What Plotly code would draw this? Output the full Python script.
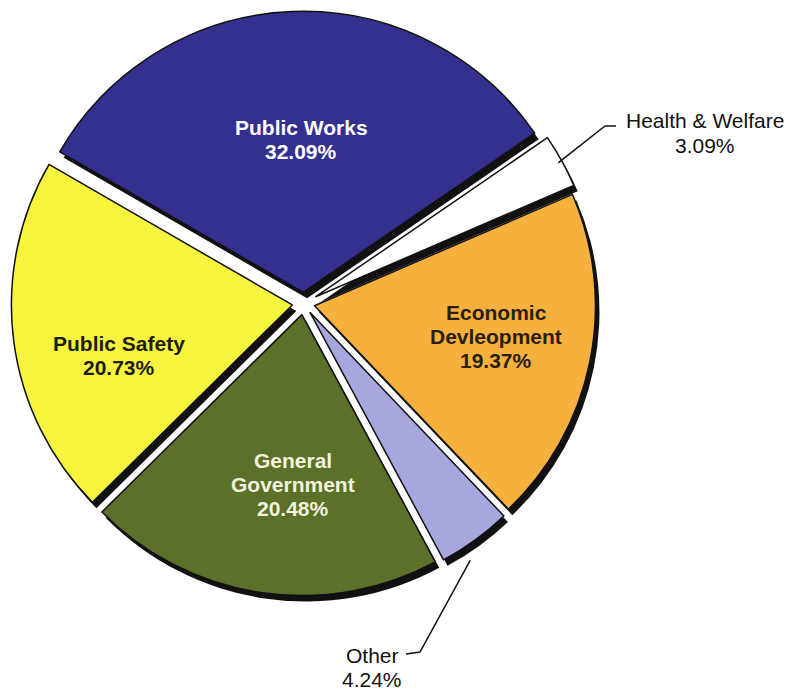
import math
import plotly.graph_objects as go

# ---- data ----
labels = ["Public Works", "Health & Welfare", "Economic Devleopment", "Other",
          "General Government", "Public Safety"]
label_lines = [["Public Works"], ["Health & Welfare"], ["Economic", "Devleopment"], ["Other"],
               ["General", "Government"], ["Public Safety"]]
values = [32.09, 3.09, 19.37, 4.24, 20.48, 20.73]
colors = ["#34308f", "#ffffff", "#f5b03e", "#a7a7e0", "#5b7029", "#f7f43e"]
text_colors = ["#ffffff", "#111111", "#2a2010", "#111111", "#f2f2dc", "#1e1e10"]
pulls = [0.04, 0.05, 0.04, 0.04, 0.04, 0.04]

# page has an 8px body margin; work in screen pixels and convert
OFF = 8
W, H = 792 - OFF, 690 - OFF
ROT = -60
# pie box in screen pixels
bx0, bx1, by0, by1 = 8.5, 598.5, 8.5, 598.5
SH_DX, SH_DY = 4, 6
FONT = "Liberation Sans, Arial, sans-serif"
LINE_H = 24


def px(x):
    return (x - OFF) / W


def py(y):
    return 1 - (y - OFF) / H


fig = go.Figure()

# shadow pie
fig.add_trace(go.Pie(
    labels=labels, values=values, sort=False, direction="clockwise", rotation=ROT,
    pull=pulls, marker=dict(colors=["#111111"] * len(values), line=dict(width=0)),
    textinfo="none", hoverinfo="skip", showlegend=False,
    domain=dict(x=[px(bx0 + SH_DX), px(bx1 + SH_DX)], y=[py(by1 + SH_DY), py(by0 + SH_DY)]),
))

# main pie
fig.add_trace(go.Pie(
    labels=labels, values=values, sort=False, direction="clockwise", rotation=ROT,
    pull=pulls, marker=dict(colors=colors, line=dict(color="#111111", width=1.5)),
    textinfo="none", showlegend=False,
    domain=dict(x=[px(bx0), px(bx1)], y=[py(by1), py(by0)]),
))

# geometry for label leader lines
cx, cy = (bx0 + bx1) / 2, (by0 + by1) / 2
r = min(bx1 - bx0, by1 - by0) / (2 + 2 * max(pulls))
total = sum(values)
mids = []
acc = 0
for v in values:
    mids.append(ROT + (acc + v / 2) / total * 360)
    acc += v


def edge_point(i, extra=0, dang=0):
    a = math.radians(mids[i] + dang)
    R = r * (1 + pulls[i]) + extra
    return cx + R * math.sin(a), cy - R * math.cos(a)


def pct(v):
    return "%.2f%%" % v


annotations = []


def add_label(i, x, y_first, bold, size):
    lines = label_lines[i] + [pct(values[i])]
    for k, ln in enumerate(lines):
        annotations.append(dict(
            x=px(x), y=py(y_first + k * LINE_H), xref="paper", yref="paper",
            showarrow=False,
            text=("<b>%s</b>" % ln) if bold else ln,
            font=dict(family=FONT, size=size, color=text_colors[i]),
            xanchor="center", yanchor="middle",
        ))


# inside labels: (x centre, y of first line) in screen pixels
add_label(0, 301, 127, True, 21)
add_label(2, 496, 312, True, 21)
add_label(4, 293, 460, True, 21)
add_label(5, 119, 343, True, 21)
# outside labels
add_label(1, 705, 121, False, 21)
add_label(3, 372, 655, False, 21)

# leader lines
hx, hy = edge_point(1, -4)
ox, oy = edge_point(3, 14, 3)
shapes = [
    dict(type="path", xref="paper", yref="paper",
         path="M %f %f L %f %f L %f %f" % (px(hx), py(hy), px(605), py(126), px(616), py(126)),
         line=dict(color="#111111", width=1.5)),
    dict(type="path", xref="paper", yref="paper",
         path="M %f %f L %f %f L %f %f" % (px(ox), py(oy), px(420), py(652), px(406), py(654)),
         line=dict(color="#111111", width=1.5)),
]

fig.update_layout(
    width=W, height=H, margin=dict(l=0, r=0, t=0, b=0),
    paper_bgcolor="white", plot_bgcolor="white", showlegend=False,
    annotations=annotations, shapes=shapes,
)

fig.write_html("out.html")
